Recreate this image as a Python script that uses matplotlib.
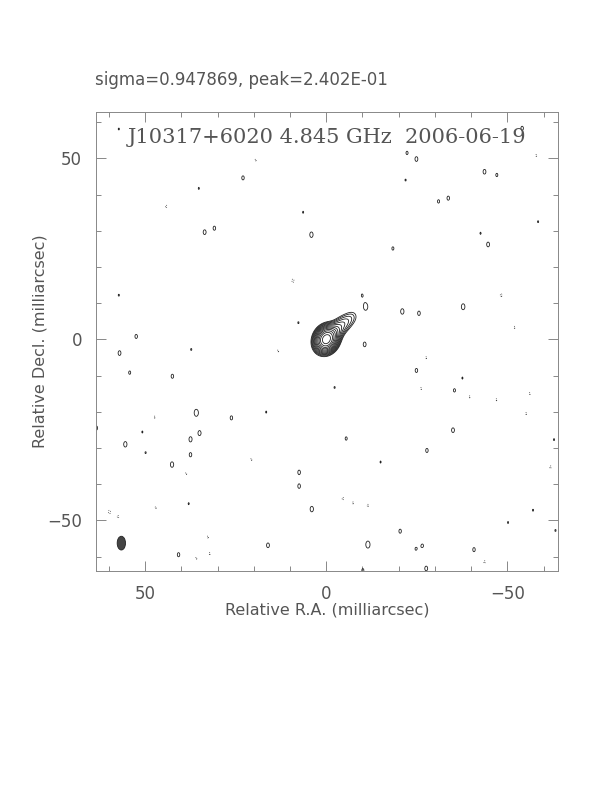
import numpy as np
import matplotlib
matplotlib.use("Agg")
import matplotlib.pyplot as plt
from matplotlib.patches import Ellipse
from matplotlib.ticker import MultipleLocator

# header text
sigma_text = "sigma=0.947869, peak=2.402E-01"
title_text = "J10317+6020 4.845 GHz  2006-06-19"

# contour levels (mJy/beam)
pos_levels = [2.84, 4.0, 5.7, 8.0, 11.4, 16.0, 22.7, 32.0, 45.0, 64.0, 91.0, 128.0, 182.0]
neg_levels = [-2.84]

# restoring beam: centre (mas), fwhm minor/major (mas), PA (deg)
beam_xy = (56.6, -56.3)
beam_min, beam_maj, beam_pa = 2.3, 3.8, 0.0
# size of the noise peaks (mas)
noise_min, noise_maj = 1.8, 3.0

# source components: x, y (mas), flux (mJy), major, minor (mas), PA (deg)
src_x = [0.0, -2.2, -4.3, -6.6]
src_y = [0.0, 2.0, 4.0, 5.8]
src_flux = [240.0, 22.0, 9.0, 4.5]
src_maj = [3.9, 3.8, 4.0, 4.2]
src_min = [3.2, 2.8, 3.0, 3.0]
src_pa = [-25.0, -40.0, -45.0, -45.0]

# positive noise peaks: x, y (mas), flux (mJy)
pk_x = [23.0, 35.2, 33.6, 30.9, 6.4, 4.1, 57.3, 7.7, 52.5, 57.3,
        -24.9, -22.3, -54.1, -43.7, -47.1, -21.9, -31.0, -33.7, -18.4, -44.7,
        -42.6, -58.5, -9.9, -10.9, -21.0, -25.6, -37.8,
        57.1, 54.3, 42.5, 37.3, 35.9, 26.2, 35.0, 37.5, 55.5, 37.5, 42.6,
        50.8, 49.9, 7.5, 7.5, 4.0, 16.1, 40.8, 63.5, 38.0, 16.6,
        -10.6, -24.9, -37.6, -35.4, -35.0, -5.5, -27.8, -15.0, -57.1, -50.2,
        -20.4, -11.5, -24.7, -26.6, -40.8, -27.6, -63.3, -62.9, -10.1, -2.3]
pk_y = [44.6, 41.7, 29.6, 30.7, 35.1, 28.9, 12.2, 4.6, 0.8, 58.1,
        49.8, 51.5, 58.3, 46.3, 45.4, 44.0, 38.1, 39.0, 25.1, 26.2,
        29.3, 32.5, 12.2, 9.0, 7.7, 7.2, 9.0,
        -3.8, -9.2, -10.2, -2.8, -20.3, -21.7, -25.9, -27.6, -29.0, -31.9, -34.6,
        -25.6, -31.3, -36.7, -40.6, -46.9, -56.9, -59.5, -24.5, -45.4, -20.1,
        -1.4, -8.6, -10.7, -14.1, -25.1, -27.4, -30.7, -33.9, -47.2, -50.6,
        -53.0, -56.7, -57.9, -57.0, -58.1, -63.3, -52.8, -27.7, -63.8, -13.3]
pk_flux = [3.15, 2.92, 3.25, 3.15, 2.92, 3.4, 2.92, 2.92, 3.15, 2.92,
           3.25, 3.05, 3.15, 3.25, 3.05, 2.92, 3.05, 3.15, 3.05, 3.25,
           2.92, 2.92, 2.92, 3.7, 3.4, 3.2, 3.5,
           3.25, 3.05, 3.15, 2.92, 3.8, 3.15, 3.3, 3.3, 3.4, 3.15, 3.4,
           2.92, 2.92, 3.15, 3.15, 3.4, 3.25, 3.15, 3.15, 2.92, 2.92,
           3.25, 3.15, 2.92, 3.05, 3.25, 3.05, 3.15, 2.92, 2.92, 2.92,
           3.15, 3.8, 2.88, 2.95, 3.15, 3.25, 2.92, 2.92, 3.05, 2.92]

# negative noise peaks: x, y (mas), flux (mJy)
nk_x = [44.2, 9.2, 19.5, -58.0, -48.3, -52.0, 59.9, 57.5, 32.7, 32.2, 35.9,
        20.7, 38.7, 47.4, 13.3, 47.1, -4.6, -7.4, -11.5, -26.2, -61.9, -43.7,
        -56.2, -55.2, -27.6, -39.6, -47.0]
nk_y = [36.7, 16.2, 49.5, 50.8, 12.2, 3.3, -47.7, -49.0, -54.6, -59.2, -60.5,
        -33.2, -37.1, -21.5, -3.2, -46.5, -44.0, -45.2, -45.9, -13.6, -35.3, -61.5,
        -15.0, -20.5, -5.1, -15.9, -16.7]
nk_flux = [-2.95, -3.05, -2.92, -2.92, -3.0, -2.92, -3.05, -2.95, -2.92, -2.92, -2.92,
           -2.92, -2.92, -2.92, -2.92, -2.92, -2.95, -2.92, -2.95, -2.92, -2.95, -2.95,
           -2.92, -2.92, -2.92, -2.92, -2.92]


def gauss(X, Y, x0, y0, amp, maj, mnr, pa):
    t = np.radians(pa)
    dx, dy = X - x0, Y - y0
    u = dx * np.sin(t) + dy * np.cos(t)
    v = dx * np.cos(t) - dy * np.sin(t)
    return amp * np.exp(-4 * np.log(2) * (u**2 / maj**2 + v**2 / mnr**2))


g = np.linspace(-64, 64, 641)
X, Y = np.meshgrid(g, g)
img = np.zeros_like(X)
for i in range(len(src_x)):
    img += gauss(X, Y, src_x[i], src_y[i], src_flux[i], src_maj[i], src_min[i], src_pa[i])
for x0, y0, f in zip(pk_x + nk_x, pk_y + nk_y, pk_flux + nk_flux):
    img += gauss(X, Y, x0, y0, f, noise_maj, noise_min, beam_pa)

txt = "#555555"
fig = plt.figure(figsize=(6.12, 7.92), dpi=100)
ax = fig.add_axes([96 / 612, 1 - 571 / 792, 462 / 612, 459 / 792])

ax.contour(X, Y, img, levels=pos_levels, colors="#222222", linewidths=0.6)
ax.contour(X, Y, img, levels=neg_levels, colors="#444444", linewidths=0.6,
           linestyles="dotted")

ax.add_patch(Ellipse(beam_xy, beam_min, beam_maj, angle=-beam_pa,
                     facecolor="#444444", edgecolor="#222222", lw=0.6))

ax.set_xlim(63.6, -64.0)
ax.set_ylim(-64.0, 62.8)

ax.xaxis.set_major_locator(MultipleLocator(50))
ax.xaxis.set_minor_locator(MultipleLocator(10))
ax.yaxis.set_major_locator(MultipleLocator(50))
ax.yaxis.set_minor_locator(MultipleLocator(10))
ax.tick_params(which="both", direction="in", top=True, right=True,
               colors="#888888", labelcolor=txt, labelsize=12, width=0.7)
ax.tick_params(which="major", length=7, pad=10)
ax.tick_params(which="minor", length=3.5)
for s in ax.spines.values():
    s.set_color("#888888")
    s.set_linewidth(0.7)

ax.set_xlabel("Relative R.A. (milliarcsec)", fontsize=11.5, color=txt, labelpad=0)
ax.set_ylabel("Relative Decl. (milliarcsec)", fontsize=11.5, color=txt, labelpad=0)

fig.text(95 / 612, 1 - 85 / 792, sigma_text, fontsize=12, color=txt)
ax.text(0.5, 0.965, title_text, transform=ax.transAxes, ha="center", va="top",
        fontsize=15, color=txt, family="DejaVu Serif")

fig.savefig("out.png", dpi=100)
